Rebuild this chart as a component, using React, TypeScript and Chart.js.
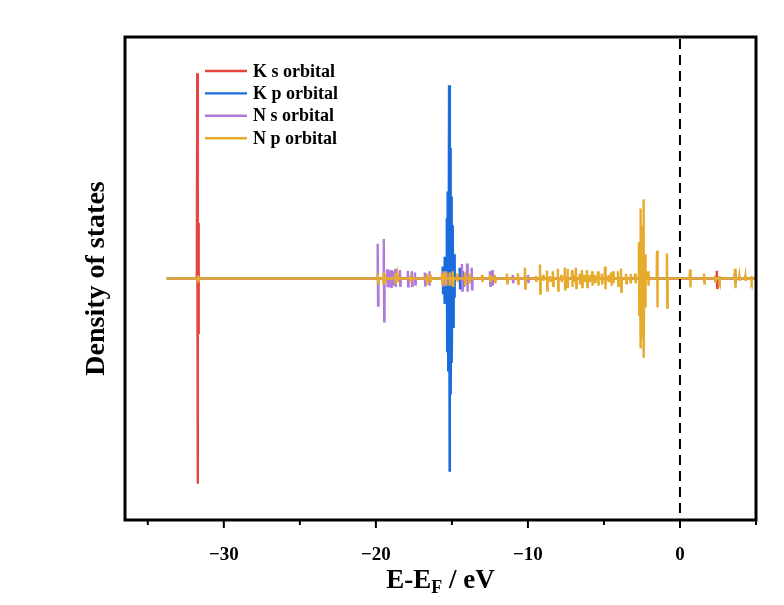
import React, { useEffect, useRef } from 'react';
import { Chart, registerables } from 'chart.js';

Chart.register(...registerables);

// ---------- data: each peak is [energy (eV), upper lobe, lower lobe] ----------
const seriesNames = ['K s orbital', 'K p orbital', 'N s orbital', 'N p orbital'];
const seriesColors = ['#e8433f', '#1a6cdc', '#b07ad8', '#e6ab2c'];
const energyStart = -33.75;
const energyEnd = 5.0;

const ksPeaks: number[][] = [
  [-31.75, 8.5, 8.5], [-31.69, 2.3, 2.3], [2.42, 0.32, 0.38],
];

const kpPeaks: number[][] = [
  [-15.6, 0.5, 0.6], [-15.48, 0.9, 1.05], [-15.33, 2.5, 3.0], [-15.26, 3.6, 3.8],
  [-15.18, 8.0, 8.0], [-15.1, 5.4, 4.8], [-15.02, 3.4, 3.5], [-14.94, 2.2, 2.0],
  [-14.86, 1.0, 0.8], [-14.48, 0.45, 0.4], [-14.28, 0.3, 0.3], [3.62, 0.2, 0.2],
];

const nsPeaks: number[][] = [
  [-19.88, 1.44, 1.12], [-19.48, 1.64, 1.77], [-19.25, 0.38, 0.36], [-19.1, 0.33, 0.37],
  [-19.0, 0.35, 0.4], [-18.85, 0.3, 0.3], [-18.72, 0.4, 0.35], [-18.42, 0.35, 0.3],
  [-17.9, 0.32, 0.32], [-17.64, 0.3, 0.3], [-17.43, 0.25, 0.25], [-16.78, 0.25, 0.28],
  [-16.48, 0.3, 0.3], [-15.6, 0.3, 0.3], [-15.34, 0.25, 0.25], [-14.34, 0.6, 0.5],
  [-14.0, 0.62, 0.55], [-13.7, 0.45, 0.45], [-12.5, 0.3, 0.3], [-12.34, 0.35, 0.3],
  [-11.0, 0.15, 0.15], [-10.0, 0.15, 0.15], [-2.56, 0.2, 0.25],
];

const npPeaks: number[][] = [
  [-31.7, 0.12, 0.12],
  [-19.88, 0.2, 0.2], [-19.5, 0.25, 0.25], [-19.42, 0.2, 0.15], [-18.72, 0.2, 0.25],
  [-18.6, 0.2, 0.15], [-17.72, 0.15, 0.15], [-16.65, 0.2, 0.2], [-16.42, 0.15, 0.15],
  [-15.65, 0.2, 0.25], [-15.45, 0.3, 0.3], [-15.15, 0.25, 0.25], [-14.95, 0.3, 0.3],
  [-14.65, 0.2, 0.15], [-14.15, 0.25, 0.25], [-13.85, 0.2, 0.2], [-13.02, 0.15, 0.15],
  [-12.48, 0.15, 0.15], [-12.18, 0.15, 0.15], [-11.38, 0.2, 0.2], [-10.66, 0.22, 0.22],
  [-10.2, 0.45, 0.42], [-9.48, 0.1, 0.1], [-9.21, 0.58, 0.62], [-9.0, 0.15, 0.1],
  [-8.75, 0.33, 0.5], [-8.55, 0.1, 0.1], [-8.36, 0.3, 0.3], [-8.03, 0.4, 0.5],
  [-7.8, 0.15, 0.15], [-7.58, 0.45, 0.45], [-7.4, 0.4, 0.4], [-7.1, 0.35, 0.35],
  [-6.95, 0.15, 0.15], [-6.84, 0.45, 0.4], [-6.6, 0.2, 0.2], [-6.45, 0.35, 0.35],
  [-6.3, 0.15, 0.15], [-6.12, 0.35, 0.35], [-5.95, 0.15, 0.15], [-5.78, 0.3, 0.3],
  [-5.6, 0.15, 0.15], [-5.39, 0.3, 0.3], [-5.15, 0.2, 0.2], [-4.93, 0.5, 0.45],
  [-4.7, 0.15, 0.15], [-4.53, 0.25, 0.3], [-4.4, 0.3, 0.2], [-4.08, 0.3, 0.3],
  [-3.88, 0.4, 0.55], [-3.55, 0.2, 0.2], [-3.25, 0.2, 0.2], [-2.95, 0.2, 0.2],
  [-2.7, 1.5, 1.5], [-2.6, 2.9, 2.9], [-2.5, 2.2, 2.4], [-2.4, 3.28, 3.28],
  [-2.3, 1.0, 1.2], [-2.1, 0.3, 0.3], [-1.51, 1.16, 1.2], [-0.86, 1.04, 1.2],
  [0.66, 0.37, 0.37], [1.58, 0.2, 0.2], [2.3, 0.12, 0.12], [2.6, 0.1, 0.1],
  [3.62, 0.4, 0.4], [3.9, 0.1, 0.1], [4.3, 0.1, 0.1], [4.7, 0.1, 0.1],
];

const xTickValues = [-35, -30, -25, -20, -15, -10, -5, 0, 5];
const xAxisRange = [-36.5, 5];
const yAxisRange = [-10, 10];
const xTitleParts = ['E-E', 'F', ' / eV'];
const yTitle = 'Density of states';

const SERIF = '"Liberation Serif", "Times New Roman", serif';

// turn the peak table into a polyline the library can draw
function peaksToPoints(peaks: number[][]) {
  const hw = 0.025;
  const pts: { x: number; y: number }[] = [{ x: energyStart, y: 0 }];
  for (const [e, up, down] of peaks) {
    pts.push({ x: e - hw, y: 0 });
    pts.push({ x: e, y: up });
    pts.push({ x: e + hw, y: -down });
    pts.push({ x: e + 2 * hw, y: 0 });
  }
  pts.push({ x: energyEnd, y: 0 });
  return pts;
}

export default function App() {
  const ref = useRef<HTMLCanvasElement>(null);

  useEffect(() => {
    document.body.style.margin = '0';
    const canvas = ref.current;
    if (!canvas) return;

    const seriesData = [ksPeaks, kpPeaks, nsPeaks, npPeaks];
    const widths = [2.4, 2.6, 2.4, 2.4];
    const orders = [3, 2, 1, 0];

    const decorPlugin = {
      id: 'decor',
      afterDraw(chart: any) {
        const { ctx, chartArea } = chart;
        const { left, right, top, bottom } = chartArea;
        const xs = chart.scales.x;
        ctx.save();
        // dashed Fermi level line
        const x0 = xs.getPixelForValue(0);
        ctx.strokeStyle = '#000';
        ctx.lineWidth = 2;
        ctx.setLineDash([10, 6]);
        ctx.beginPath();
        ctx.moveTo(x0, top + 2);
        ctx.lineTo(x0, bottom);
        ctx.stroke();
        ctx.setLineDash([]);
        // frame
        ctx.lineWidth = 3;
        ctx.strokeRect(left, top, right - left, bottom - top);
        // tick marks
        ctx.lineWidth = 2;
        for (const v of xTickValues) {
          const px = xs.getPixelForValue(v);
          const len = v % 10 === 0 ? 8 : 5;
          ctx.beginPath();
          ctx.moveTo(px, bottom);
          ctx.lineTo(px, bottom + len);
          ctx.stroke();
        }
        // legend
        ctx.font = `bold 18px ${SERIF}`;
        ctx.textBaseline = 'middle';
        ctx.textAlign = 'left';
        chart.data.datasets.forEach((ds: any, i: number) => {
          const y = 71 + i * 22.4;
          ctx.strokeStyle = ds.borderColor;
          ctx.lineWidth = 2.4;
          ctx.beginPath();
          ctx.moveTo(205, y);
          ctx.lineTo(247, y);
          ctx.stroke();
          ctx.fillStyle = '#000';
          ctx.fillText(ds.label, 253, y + 1);
        });
        // x title with subscript
        ctx.fillStyle = '#000';
        ctx.textBaseline = 'alphabetic';
        const big = `bold 27px ${SERIF}`;
        const small = `bold 18px ${SERIF}`;
        ctx.font = big;
        const w1 = ctx.measureText(xTitleParts[0]).width;
        const w3 = ctx.measureText(xTitleParts[2]).width;
        ctx.font = small;
        const w2 = ctx.measureText(xTitleParts[1]).width;
        const total = w1 + w2 + w3;
        let tx = (left + right) / 2 - total / 2;
        const ty = 588;
        ctx.font = big;
        ctx.fillText(xTitleParts[0], tx, ty);
        tx += w1;
        ctx.font = small;
        ctx.fillText(xTitleParts[1], tx, ty + 5);
        tx += w2;
        ctx.font = big;
        ctx.fillText(xTitleParts[2], tx, ty);
        // y title rotated
        ctx.save();
        ctx.translate(97, (top + bottom) / 2);
        ctx.rotate(-Math.PI / 2);
        ctx.font = `bold 28px ${SERIF}`;
        ctx.textAlign = 'center';
        ctx.textBaseline = 'middle';
        ctx.fillText(yTitle, 0, 0);
        ctx.restore();
        ctx.restore();
      },
    };

    const chart = new Chart(canvas, {
      type: 'scatter',
      data: {
        datasets: seriesNames.map((name, i) => ({
          label: name,
          data: peaksToPoints(seriesData[i]),
          borderColor: seriesColors[i],
          backgroundColor: seriesColors[i],
          borderWidth: widths[i],
          showLine: true,
          pointRadius: 0,
          tension: 0,
          order: orders[i],
        })),
      },
      options: {
        animation: false,
        responsive: false,
        devicePixelRatio: 1,
        layout: { padding: { top: 37, right: 28, left: 0, bottom: 0 } },
        plugins: { legend: { display: false }, tooltip: { enabled: false } },
        scales: {
          x: {
            type: 'linear',
            min: xAxisRange[0],
            max: xAxisRange[1],
            afterBuildTicks: (s: any) => {
              s.ticks = xTickValues.map((v) => ({ value: v }));
            },
            afterFit: (s: any) => {
              s.height = 85;
            },
            grid: { display: false, drawTicks: true, tickLength: 8 },
            border: { display: false },
            ticks: {
              padding: 16,
              color: '#000',
              maxRotation: 0,
              autoSkip: false,
              font: { family: SERIF, size: 19, weight: 'bold' },
              callback: (v: any) => {
                const n = Number(v);
                if (n % 10 !== 0) return '';
                return n < 0 ? '\u2212' + Math.abs(n) : String(n);
              },
            },
          },
          y: {
            type: 'linear',
            min: yAxisRange[0],
            max: yAxisRange[1],
            afterFit: (s: any) => {
              s.width = 125;
            },
            grid: { display: false },
            border: { display: false },
            ticks: { display: false },
          },
        },
      },
      plugins: [decorPlugin],
    } as any);

    return () => chart.destroy();
  }, []);

  return (
    <div style={{ width: 784, height: 605, background: '#fff' }}>
      <canvas ref={ref} width={784} height={605} style={{ display: 'block' }} />
    </div>
  );
}
